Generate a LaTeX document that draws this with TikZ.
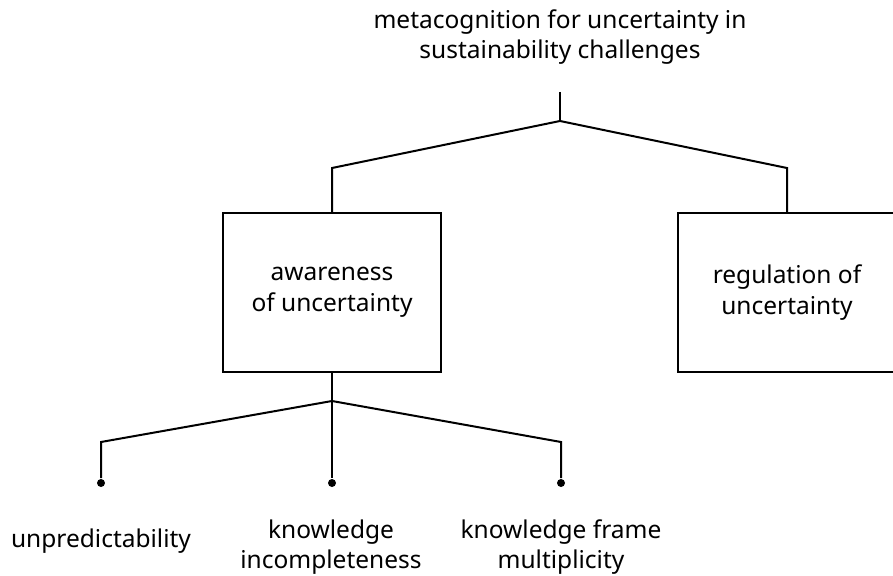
\documentclass[tikz,border=0pt]{standalone}
\usepackage{fontspec}
\setmainfont{Noto Sans}
\usepackage{tikz}
\tikzset{every picture/.style={line width=2pt}}
\tikzset{
  catbox/.style={draw, minimum width=218pt, minimum height=159pt, align=center, inner sep=0pt, font=\fontsize{24.5}{31}\selectfont},
  leaflabel/.style={align=center, inner sep=0pt, font=\fontsize{24.5}{30}\selectfont},
  leafdot/.style={circle, fill, inner sep=0pt, minimum size=8pt}
}

\begin{document}
\begin{tikzpicture}[x=1pt,y=1pt,yscale=-1]
\useasboundingbox (0,0) rectangle (893,575);

% Text Node
\node [leaflabel] (meta) at (560,37) {metacognition for uncertainty in\\sustainability challenges};

%Shape: Rectangle
\node [catbox] (awareness) at (332,292.5) {awareness\\of uncertainty};
%Shape: Rectangle
\node [catbox] (regulation) at (787,292.5) {regulation of\\uncertainty};

%Shape: Circle
\node [leafdot] (dotleft) at (101,483) {};
\node [leafdot] (dotmid) at (332,483) {};
\node [leafdot] (dotright) at (561,483) {};

% Text Node
\node [leaflabel] (unpred) at (101,541) {unpredictability};
% Text Node
\node [leaflabel] (incompl) at (331,547) {knowledge\\incompleteness};
% Text Node
\node [leaflabel] (multi) at (561,547) {knowledge frame\\multiplicity};

%Straight Lines
\coordinate (metastem) at (560,92);
\coordinate (metafork) at (560,121);
\draw (metastem) -- (metafork);
\draw (metafork) -- (awareness.north |- 0,168) -- (awareness.north);
\draw (metafork) -- (regulation.north |- 0,168) -- (regulation.north);

%Straight Lines
\coordinate (awarefork) at (332,401);
\draw (awareness.south) -- (awarefork) -- (dotmid);
\draw (awarefork) -- (dotleft |- 0,442) -- (dotleft);
\draw (awarefork) -- (dotright |- 0,442) -- (dotright);

\end{tikzpicture}
\end{document}
